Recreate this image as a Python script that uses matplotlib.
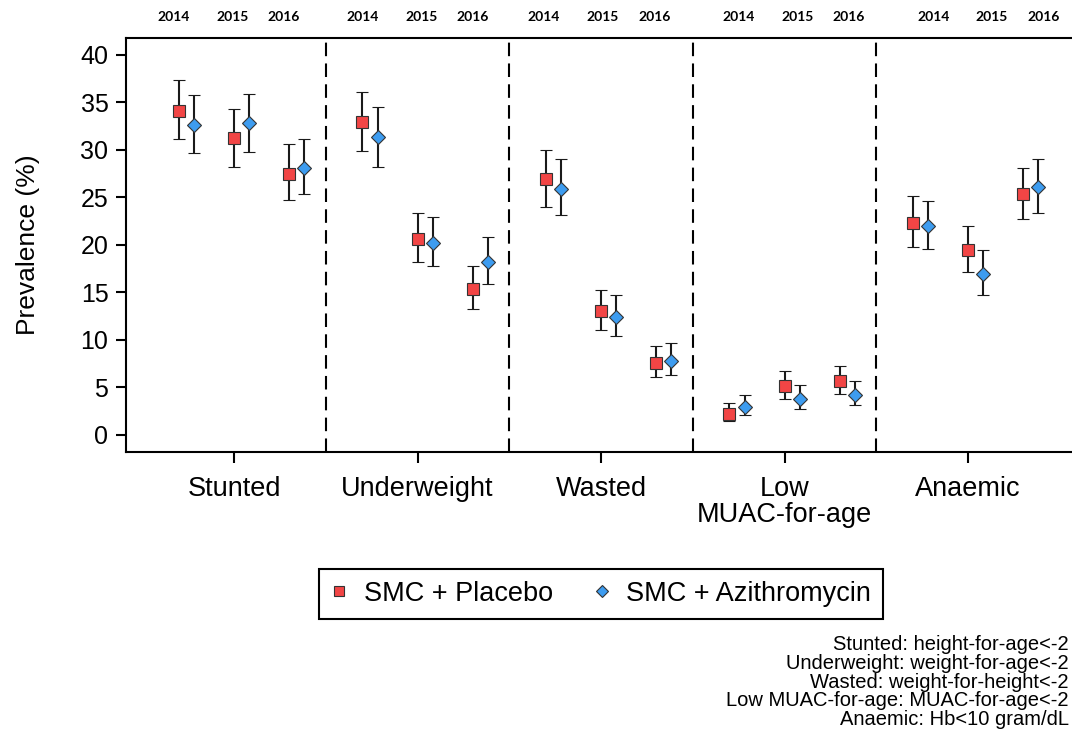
import numpy as np
import matplotlib
matplotlib.use('Agg')
import matplotlib.pyplot as plt
from matplotlib.lines import Line2D

categories = ['Stunted', 'Underweight', 'Wasted', 'Low\nMUAC-for-age', 'Anaemic']
years = ['2014', '2015', '2016']

# one row per outcome, one column per year
placebo = [[34.1, 31.2, 27.5], [32.9, 20.6, 15.4], [26.9, 13.05, 7.55], [2.2, 5.1, 5.65], [22.3, 19.5, 25.3]]
placebo_lo = [[31.1, 28.2, 24.7], [29.9, 18.2, 13.3], [24.0, 11.0, 6.05], [1.45, 3.8, 4.35], [19.8, 17.1, 22.7]]
placebo_hi = [[37.3, 34.3, 30.6], [36.1, 23.3, 17.8], [30.0, 15.3, 9.35], [3.35, 6.7, 7.25], [25.1, 22.0, 28.1]]
azithro = [[32.6, 32.8, 28.1], [31.3, 20.2, 18.2], [25.9, 12.45, 7.8], [2.9, 3.8, 4.25], [22.0, 16.95, 26.1]]
azithro_lo = [[29.7, 29.8, 25.3], [28.2, 17.8, 15.9], [23.1, 10.45, 6.3], [2.05, 2.75, 3.1], [19.6, 14.7, 23.4]]
azithro_hi = [[35.8, 35.9, 31.1], [34.5, 22.9, 20.8], [29.0, 14.7, 9.7], [4.15, 5.2, 5.7], [24.6, 19.5, 29.0]]

footnote = ['Stunted: height-for-age<-2',
            'Underweight: weight-for-age<-2',
            'Wasted: weight-for-height<-2',
            'Low MUAC-for-age: MUAC-for-age<-2',
            'Anaemic: Hb<10 gram/dL']

plt.rcParams['font.family'] = ['Liberation Sans', 'DejaVu Sans']

red = '#f24545'
blue = '#3d9cf0'

fig = plt.figure(figsize=(10.72, 7.49), dpi=100)
ax = fig.add_axes([0.1173, 0.3965, 0.8867, 0.5532])

year_off = np.array([-0.3, 0.0, 0.3])
dodge = 0.082
for i in range(len(categories)):
    x = i + year_off
    y = np.array(placebo[i])
    ax.errorbar(x, y, yerr=[y - np.array(placebo_lo[i]), np.array(placebo_hi[i]) - y],
                fmt='s', ms=8, mfc=red, mec='#333333', mew=0.8, ecolor='#1a1a1a',
                elinewidth=1.5, capsize=4.4, capthick=1.5, zorder=3)
    y = np.array(azithro[i])
    ax.errorbar(x + dodge, y, yerr=[y - np.array(azithro_lo[i]), np.array(azithro_hi[i]) - y],
                fmt='D', ms=6.8, mfc=blue, mec='#333333', mew=0.8, ecolor='#1a1a1a',
                elinewidth=1.5, capsize=4.4, capthick=1.5, zorder=3)

# dashed separators between outcomes
for i in range(len(categories) - 1):
    ax.axvline(i + 0.5, color='black', lw=1.5, ls=(0, (6.5, 3.5)), zorder=1)

# year labels above the frame
label_off = np.array([-0.31, 0.01, 0.29])
drift = [-0.02, 0.01, 0.0, 0.06, 0.12]
for i in range(len(categories)):
    for j, yr in enumerate(years):
        ax.text(i + label_off[j] + drift[i], 1.05, yr, transform=ax.get_xaxis_transform(),
                ha='center', va='center', fontsize=10, fontweight='bold',
                family=['Lato', 'DejaVu Sans'], clip_on=False)

ax.set_xlim(-0.59, 4.59)
ax.set_ylim(-1.8, 41.8)
ax.set_yticks(np.arange(0, 41, 5))
ax.set_xticks(range(len(categories)))
ax.set_xticklabels(categories, fontsize=19.5, linespacing=1.0)
ax.tick_params(axis='y', labelsize=18, length=7.5, width=1.5, pad=5)
ax.tick_params(axis='x', length=8, width=1.5, pad=9.5)
for s in ['left', 'bottom', 'top']:
    ax.spines[s].set_linewidth(1.5)
ax.spines['right'].set_visible(False)
ax.set_ylabel('Prevalence (%)', fontsize=19, labelpad=29)

handles = [Line2D([], [], marker='s', ls='none', ms=7, mfc=red, mec='#333333', mew=0.8),
           Line2D([], [], marker='D', ls='none', ms=6, mfc=blue, mec='#333333', mew=0.8)]
leg = fig.legend(handles, ['SMC + Placebo', 'SMC + Azithromycin'], loc='center',
                 bbox_to_anchor=(0.5606, 0.207), ncol=2, fontsize=19.5, frameon=True,
                 fancybox=False, edgecolor='black', framealpha=1, handlelength=0.6,
                 handletextpad=0.6, columnspacing=1.5, borderpad=0.45)
leg.get_frame().set_linewidth(1.5)

fig.text(0.997, 0.152, '\n'.join(footnote), ha='right', va='top', ma='right',
         fontsize=14.5, linespacing=0.98)

fig.savefig('out.png', dpi=100)
